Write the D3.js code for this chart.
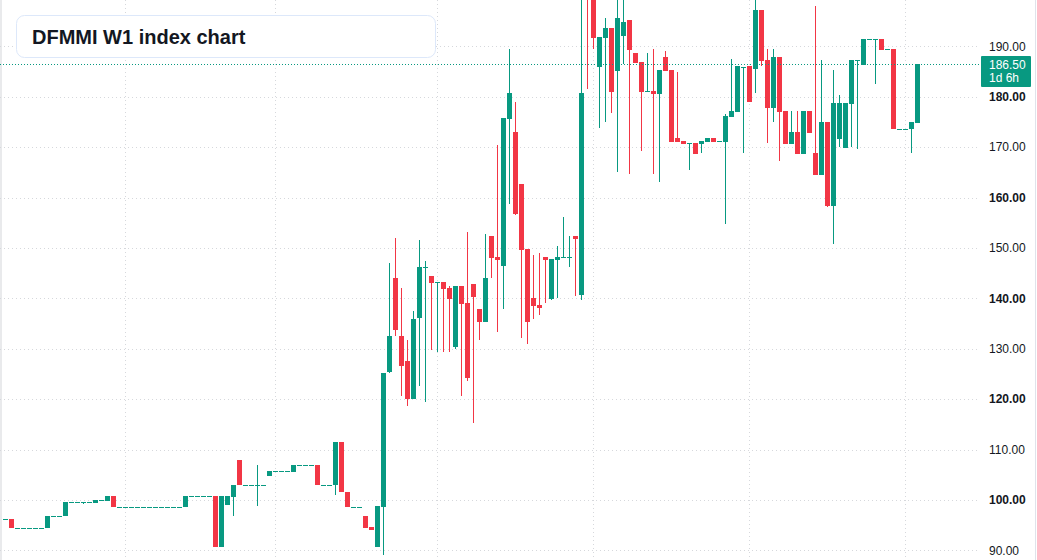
<!DOCTYPE html>
<html>
<head>
<meta charset="utf-8">
<script src="https://cdn.jsdelivr.net/npm/d3@7"></script>
<style>
  html, body { margin: 0; padding: 0; background: #fff; }
  svg { display: block; font-family: "Liberation Sans", Arial, sans-serif; }
</style>
</head>
<body>
<svg id="chart" width="1037" height="560"></svg>
<script>
// weekly candles, oldest first
var opens = [
  96.2, 96.2, 94.5, 94.5, 94.5, 94.5, 94.5, 94.5, 96.8, 96.8,
  96.8, 99.6, 99.6, 99.6, 99.6, 99.5, 100.0, 99.8, 100.8, 98.7,
  98.7, 98.7, 98.7, 98.7, 98.7, 98.7, 98.7, 98.7, 98.7, 98.7,
  98.7, 100.8, 100.8, 100.8, 100.8, 100.8, 90.7, 99.0, 100.7, 107.9,
  102.9, 102.9, 102.9, 102.9, 104.8, 105.8, 105.8, 105.8, 105.6, 106.9,
  106.9, 106.9, 106.9, 102.9, 102.9, 102.9, 111.5, 101.6, 98.7, 98.7,
  96.8, 94.6, 90.7, 98.7, 125.3, 144.0, 132.5, 127.6, 120.0, 136.1,
  146.1, 144.4, 143.1, 143.3, 142.1, 130.4, 142.5, 139.1, 142.9, 137.9,
  135.3, 152.4, 148.2, 146.4, 175.6, 173.0, 162.7, 149.8, 140.1, 138.7,
  148.2, 139.9, 147.6, 148.1, 148.1, 152.4, 140.7, 204.0, 201.0, 185.9,
  191.7, 193.7, 185.1, 192.1, 195.2, 188.7, 186.9, 181.0, 181.2, 180.6,
  187.9, 185.3, 171.8, 171.2, 170.8, 170.8, 170.6, 171.0, 171.8, 171.2,
  171.0, 176.0, 177.0, 186.0, 186.1, 185.5, 197.2, 187.3, 177.8, 187.9,
  177.2, 170.6, 173.0, 168.7, 177.2, 168.8, 164.5, 175.0, 158.3, 171.6,
  169.8, 178.6, 187.2, 186.3, 191.4, 191.4, 191.5, 189.4, 189.5, 173.7,
  173.7, 173.6, 174.8
];
var highs = [
  96.2, 96.2, 94.5, 94.5, 94.5, 94.5, 94.5, 96.8, 96.8, 96.8,
  99.6, 99.6, 99.6, 99.6, 99.6, 100.1, 100.0, 100.8, 100.8, 98.7,
  98.7, 98.7, 98.7, 98.7, 98.7, 98.7, 98.7, 98.7, 98.7, 98.7,
  100.8, 100.8, 100.8, 100.8, 100.8, 100.8, 100.8, 100.8, 103.0, 107.9,
  102.9, 102.9, 106.9, 102.9, 105.8, 105.8, 105.8, 105.8, 106.9, 106.9,
  106.9, 106.9, 106.9, 102.9, 102.9, 111.5, 111.5, 101.6, 98.7, 98.7,
  96.8, 94.6, 98.8, 125.2, 147.1, 152.0, 142.1, 131.7, 137.5, 151.6,
  147.4, 144.4, 143.3, 143.3, 142.5, 142.5, 142.5, 153.2, 142.9, 137.9,
  152.8, 152.4, 170.4, 175.8, 189.5, 179.0, 162.7, 149.8, 148.6, 149.0,
  148.2, 147.8, 150.4, 156.2, 152.4, 152.4, 200.5, 206.0, 201.5, 191.9,
  195.6, 193.7, 200.5, 200.5, 195.2, 188.7, 186.9, 188.7, 189.5, 185.3,
  189.1, 185.3, 184.9, 171.2, 170.8, 170.8, 171.2, 171.8, 171.8, 171.2,
  176.6, 187.5, 186.1, 186.0, 186.1, 199.5, 197.2, 189.5, 189.5, 187.9,
  177.2, 177.2, 177.2, 177.2, 177.2, 198.0, 187.3, 175.0, 185.3, 180.4,
  178.8, 187.3, 187.2, 191.5, 191.4, 191.4, 191.5, 189.4, 189.5, 173.7,
  173.7, 175.0, 186.5
];
var lows = [
  96.2, 94.5, 94.5, 94.5, 94.5, 94.5, 94.5, 94.5, 96.8, 96.8,
  96.8, 99.6, 99.6, 99.2, 99.6, 99.5, 100.0, 99.8, 98.7, 98.7,
  98.7, 98.7, 98.7, 98.7, 98.7, 98.7, 98.7, 98.7, 98.7, 98.7,
  98.7, 100.8, 100.8, 100.8, 100.8, 90.7, 90.7, 99.0, 96.8, 102.9,
  102.9, 102.9, 98.8, 102.9, 104.8, 105.8, 105.8, 105.8, 105.6, 106.9,
  106.9, 106.9, 102.9, 102.9, 102.9, 100.9, 101.5, 98.7, 98.7, 98.7,
  94.4, 94.0, 90.7, 89.1, 125.2, 132.5, 120.6, 118.7, 120.0, 122.6,
  119.4, 129.8, 129.4, 129.4, 129.4, 130.0, 120.6, 123.6, 115.3, 131.7,
  135.3, 144.0, 133.3, 137.9, 158.7, 156.5, 132.1, 131.0, 135.9, 136.7,
  139.1, 139.7, 140.1, 148.1, 146.2, 140.5, 139.7, 181.5, 189.5, 173.8,
  175.0, 176.8, 165.1, 186.5, 164.7, 186.7, 169.2, 181.0, 164.7, 163.1,
  185.1, 171.0, 171.0, 170.6, 165.5, 168.7, 168.8, 171.0, 171.0, 171.2,
  154.8, 176.0, 177.0, 168.8, 179.0, 180.8, 186.1, 170.8, 175.0, 167.3,
  170.6, 170.6, 168.7, 168.7, 172.8, 164.5, 164.5, 158.1, 150.8, 170.0,
  169.8, 170.0, 169.6, 186.3, 191.4, 182.5, 189.3, 189.4, 173.6, 173.7,
  173.7, 168.8, 174.8
];
var closes = [
  96.2, 94.5, 94.5, 94.5, 94.5, 94.5, 94.5, 96.8, 96.8, 96.8,
  99.6, 99.6, 99.6, 99.6, 99.6, 100.1, 100.0, 100.8, 98.7, 98.7,
  98.7, 98.7, 98.7, 98.7, 98.7, 98.7, 98.7, 98.7, 98.7, 98.7,
  100.8, 100.8, 100.8, 100.8, 100.8, 90.7, 100.8, 100.8, 103.0, 102.9,
  102.9, 102.9, 102.9, 102.9, 105.8, 105.8, 105.8, 105.8, 106.9, 106.9,
  106.9, 106.9, 102.9, 102.9, 102.9, 111.5, 101.5, 98.7, 98.7, 98.7,
  94.4, 94.0, 98.8, 125.2, 132.5, 133.6, 126.6, 120.0, 135.9, 146.2,
  146.2, 143.1, 143.3, 141.9, 139.9, 142.5, 138.9, 124.2, 140.3, 135.3,
  144.0, 148.0, 147.6, 175.8, 180.8, 156.7, 149.6, 135.3, 138.5, 138.1,
  147.6, 147.8, 148.2, 148.2, 148.2, 151.8, 180.8, 201.0, 191.7, 191.9,
  193.7, 181.0, 195.6, 194.8, 189.3, 186.7, 181.0, 181.2, 180.6, 185.3,
  185.1, 171.0, 171.0, 170.6, 170.8, 168.7, 171.2, 171.8, 171.0, 171.2,
  176.2, 177.2, 186.1, 186.0, 179.0, 197.2, 187.1, 177.8, 187.9, 177.0,
  170.6, 173.0, 168.7, 177.2, 172.8, 164.5, 175.0, 158.3, 178.8, 178.8,
  178.8, 187.3, 187.2, 191.5, 191.4, 191.4, 189.3, 189.4, 173.6, 173.7,
  173.7, 175.0, 186.5
];
var priceTicks = [90, 100, 110, 120, 130, 140, 150, 160, 170, 180, 190];
var gridCandles = [20, 45, 72, 98, 124, 150];   // half-year separators
var lastPrice = 186.50;
var lastLabel = ["186.50", "1d 6h"];
var title = "DFMMI W1 index chart";

var width = 1037, height = 560, plotRight = 980;
var up = "#089981", down = "#f23645";

var svg = d3.select("#chart");
var n = closes.length;

var x = d3.scaleBand()
    .domain(d3.range(n))
    .range([3, 3 + 6 * n - 1])
    .paddingInner(1 / 6)
    .paddingOuter(0);

var y = d3.scaleLinear()
    .domain([88.1, 199.2])
    .range([height, 0]);

function cx(i) { return Math.round(x(i)) + x.bandwidth() / 2; }
function cy(v) { return Math.round(y(v)) + 0.5; }

// left & right frame strips
svg.append("rect").attr("x", 0).attr("y", 0).attr("width", 2).attr("height", height).attr("fill", "#e9eaec");
svg.append("line").attr("x1", 1035.5).attr("x2", 1035.5).attr("y1", 0).attr("y2", height)
    .attr("stroke", "#e0e3eb");

// grid
var grid = svg.append("g").attr("stroke", "#d6d8dc").attr("stroke-dasharray", "1,3");
grid.selectAll("line.h").data(priceTicks).enter().append("line")
    .attr("class", "h")
    .attr("x1", 0).attr("x2", plotRight)
    .attr("y1", d => cy(d)).attr("y2", d => cy(d));
grid.selectAll("line.v").data(gridCandles).enter().append("line")
    .attr("class", "v")
    .attr("x1", d => cx(d)).attr("x2", d => cx(d))
    .attr("y1", 0).attr("y2", height);

// candles
var candles = svg.append("g").selectAll("g").data(d3.range(n)).enter().append("g")
    .attr("fill", i => closes[i] >= opens[i] ? up : down)
    .attr("stroke", i => closes[i] >= opens[i] ? up : down);

candles.filter(i => highs[i] > lows[i]).append("line")
    .attr("x1", i => cx(i)).attr("x2", i => cx(i))
    .attr("y1", i => Math.round(y(highs[i])))
    .attr("y2", i => Math.round(y(lows[i])))
    .attr("stroke-width", 1);

candles.append("rect")
    .attr("stroke", "none")
    .attr("x", i => Math.round(x(i)))
    .attr("width", x.bandwidth())
    .attr("y", i => Math.round(y(Math.max(opens[i], closes[i]))))
    .attr("height", i => Math.max(1, Math.round(Math.abs(y(opens[i]) - y(closes[i])))));

// last price line
svg.append("line")
    .attr("x1", 0).attr("x2", plotRight)
    .attr("y1", cy(lastPrice)).attr("y2", cy(lastPrice))
    .attr("stroke", up).attr("stroke-dasharray", "1,2");

// right price axis
var axis = svg.append("g").attr("font-size", 12).attr("fill", "#131722");
axis.selectAll("text").data(priceTicks).enter().append("text")
    .attr("x", 989)
    .attr("y", d => y(d))
    .attr("dy", "0.35em")
    .attr("font-weight", d => d % 20 === 0 ? "bold" : "normal")
    .text(d => d3.format(".2f")(d));

var ly = Math.round(y(lastPrice));
svg.append("rect")
    .attr("x", 981).attr("y", ly - 8).attr("width", 50).attr("height", 31)
    .attr("rx", 1).attr("fill", up);
svg.append("g").attr("font-size", 12).attr("fill", "#ffffff")
    .selectAll("text").data(lastLabel).enter().append("text")
    .attr("x", 989)
    .attr("y", (d, k) => ly + 5 + k * 13)
    .text(d => d);

// title box
svg.append("rect")
    .attr("x", 16.5).attr("y", 15.5).attr("width", 419).attr("height", 42)
    .attr("rx", 8).attr("fill", "#ffffff").attr("stroke", "#dde8fa");
svg.append("text")
    .attr("x", 32).attr("y", 44)
    .attr("font-size", 20).attr("font-weight", "bold").attr("fill", "#131722")
    .text(title);
</script>
</body>
</html>
